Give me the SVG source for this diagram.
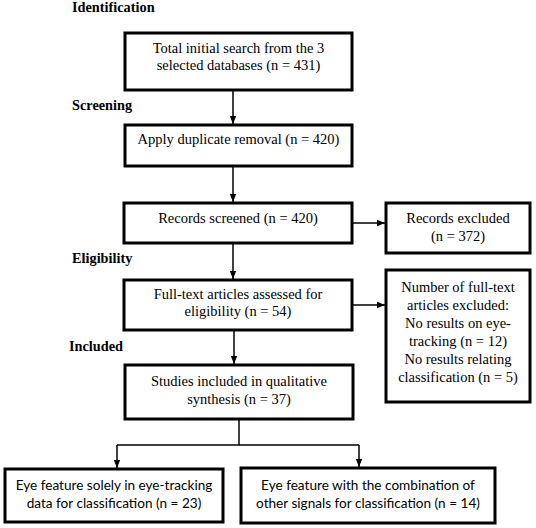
<svg xmlns="http://www.w3.org/2000/svg" width="536" height="528" viewBox="0 0 536 528">
<defs>
<style>
.box{fill:#fff;stroke:#000;stroke-width:3}
.t{font-family:'Liberation Serif','Times New Roman',serif;font-size:14.5px;fill:#000;text-anchor:middle}
.s{font-family:Lato,'Liberation Sans',sans-serif;font-size:13.6px;fill:#000;text-anchor:middle}
.lbl{font-family:'Liberation Serif','Times New Roman',serif;font-size:14.3px;font-weight:bold;fill:#000}
.c{fill:none;stroke:#000;stroke-width:1.5}
</style>
<marker id="ah" viewBox="0 0 8 8" refX="8" refY="4" markerWidth="8" markerHeight="8" markerUnits="userSpaceOnUse" orient="auto">
<path d="M0,0.8 L8,4 L0,7.2 Z" fill="#000"/>
</marker>
</defs>
<rect width="536" height="528" fill="#fff"/>
<g id="labels">
<text class="lbl" x="72" y="12">Identification</text>
<text class="lbl" x="72" y="110">Screening</text>
<text class="lbl" x="72" y="263">Eligibility</text>
<text class="lbl" x="69" y="351">Included</text>
</g>
<g id="connectors">
<path class="c" d="M233,91 V124" marker-end="url(#ah)"/>
<path class="c" d="M233,166 V202" marker-end="url(#ah)"/>
<path class="c" d="M352,223 H385" marker-end="url(#ah)"/>
<path class="c" d="M233,243 V279" marker-end="url(#ah)"/>
<path class="c" d="M352,305 H385" marker-end="url(#ah)"/>
<path class="c" d="M234,330 V364" marker-end="url(#ah)"/>
<path class="c" d="M239,419 V445"/>
<path class="c" d="M117,445 H359"/>
<path class="c" d="M117,445 V468" marker-end="url(#ah)"/>
<path class="c" d="M359,445 V467" marker-end="url(#ah)"/>
</g>
<g id="n1">
<rect class="box" x="125" y="33" width="227" height="57"/>
<text class="t" x="238.5" y="53">Total initial search from the 3</text>
<text class="t" x="238.5" y="70">selected databases (n = 431)</text>
</g>
<g id="n2">
<rect class="box" x="125" y="125" width="227" height="41"/>
<text class="t" x="238.5" y="144">Apply duplicate removal (n = 420)</text>
</g>
<g id="n3">
<rect class="box" x="124" y="203" width="228" height="40"/>
<text class="t" x="238" y="223">Records screened (n = 420)</text>
</g>
<g id="n4">
<rect class="box" x="386" y="203" width="144" height="50"/>
<text class="t" x="458" y="223">Records excluded</text>
<text class="t" x="458" y="241">(n = 372)</text>
</g>
<g id="n5">
<rect class="box" x="124" y="280" width="228" height="50"/>
<text class="t" x="238" y="299">Full-text articles assessed for</text>
<text class="t" x="238" y="316">eligibility (n = 54)</text>
</g>
<g id="n6">
<rect class="box" x="386" y="270" width="144" height="132"/>
<text class="t" x="458" y="292">Number of full-text</text>
<text class="t" x="458" y="310">articles excluded:</text>
<text class="t" x="458" y="328">No results on eye-</text>
<text class="t" x="458" y="346">tracking (n = 12)</text>
<text class="t" x="458" y="364">No results relating</text>
<text class="t" x="458" y="382">classification (n = 5)</text>
</g>
<g id="n7">
<rect class="box" x="125" y="365" width="228" height="54"/>
<text class="t" x="239" y="386">Studies included in qualitative</text>
<text class="t" x="239" y="404">synthesis (n = 37)</text>
</g>
<g id="n8">
<rect class="box" x="5" y="469" width="218" height="53"/>
<text class="s" x="114" y="490">Eye feature solely in eye-tracking</text>
<text class="s" x="114" y="508">data for classification (n = 23)</text>
</g>
<g id="n9">
<rect class="box" x="241" y="468" width="254" height="55"/>
<text class="s" x="368" y="490">Eye feature with the combination of</text>
<text class="s" x="368" y="508">other signals for classification (n = 14)</text>
</g>
</svg>
